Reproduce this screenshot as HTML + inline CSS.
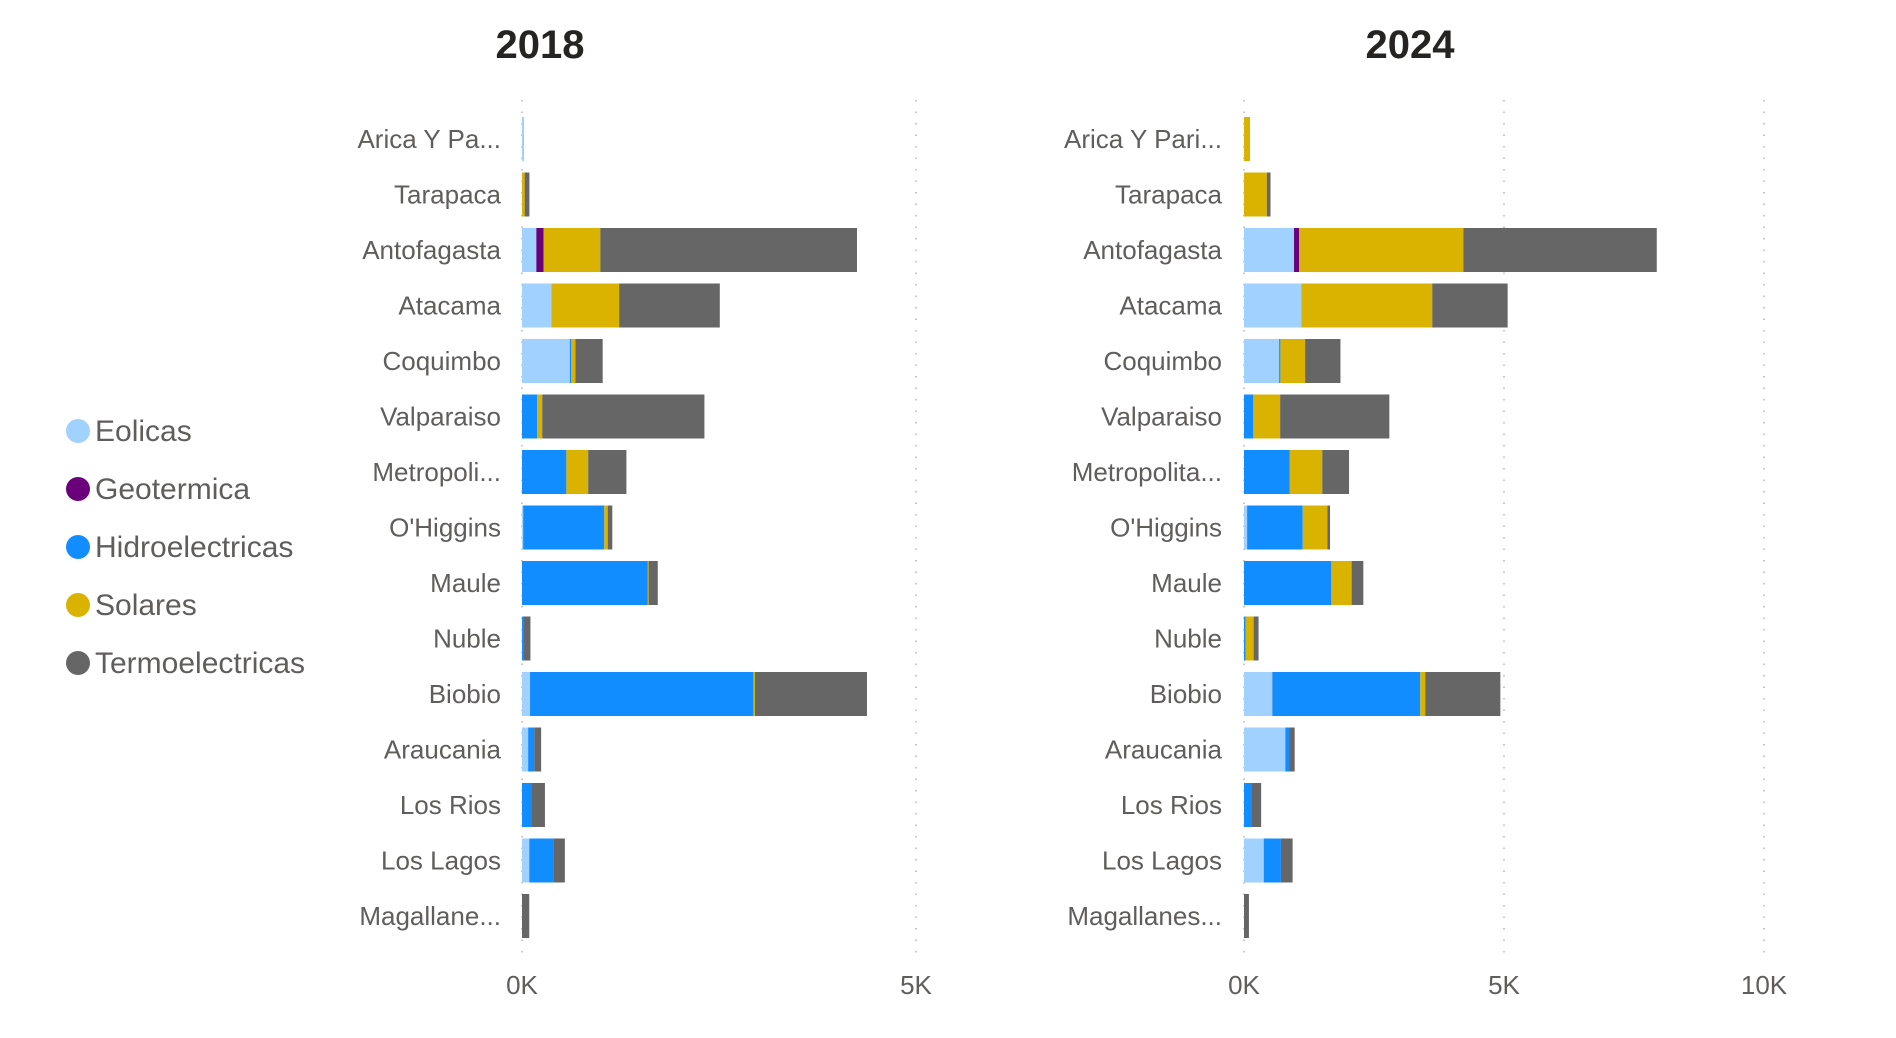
<!DOCTYPE html>
<html><head><meta charset="utf-8"><style>
html,body{margin:0;padding:0;background:#fff;}
svg{display:block;font-family:"Liberation Sans",sans-serif;}
</style></head><body>
<svg id="chart" width="1896" height="1038" viewBox="0 0 1896 1038">
<g id="legend"></g>
<g id="p2018"></g>
<g id="p2024"></g>
</svg>
<script>
const regions2018 = ["Arica Y Pa...","Tarapaca","Antofagasta","Atacama","Coquimbo","Valparaiso","Metropoli...","O'Higgins","Maule","Nuble","Biobio","Araucania","Los Rios","Los Lagos","Magallane..."];
const regions2024 = ["Arica Y Pari...","Tarapaca","Antofagasta","Atacama","Coquimbo","Valparaiso","Metropolita...","O'Higgins","Maule","Nuble","Biobio","Araucania","Los Rios","Los Lagos","Magallanes..."];
const seriesNames = ["Eolicas","Geotermica","Hidroelectricas","Solares","Termoelectricas"];
const seriesColors = ["#A0D1FF","#6B007B","#118DFF","#D9B300","#666666"];
// 2018 values per series (MW)
const eol2018 = [15,0,182,374,607,0,0,15,0,0,102,78,0,92,0];
const geo2018 = [0,0,93,0,0,0,0,0,0,0,0,0,0,0,0];
const hyd2018 = [5,0,0,0,19,194,563,1029,1597,20,2835,78,121,306,0];
const sol2018 = [0,34,719,859,53,63,277,44,10,0,19,0,0,0,0];
const ter2018 = [0,60,3257,1277,345,2058,485,58,116,87,1422,87,170,146,92];
// 2024 values per series (MW)
const eol2024 = [0,0,962,1100,675,0,0,60,0,0,545,795,0,380,0];
const geo2024 = [0,0,96,0,0,0,0,0,0,0,0,0,0,0,0];
const hyd2024 = [0,0,0,0,25,180,875,1070,1680,30,2845,80,145,330,0];
const sol2024 = [115,440,3160,2520,475,515,630,475,390,155,95,0,0,0,0];
const ter2024 = [0,70,3720,1450,680,2100,515,50,225,95,1445,100,185,225,95];
const ticks2018 = [0,5000];
const ticks2024 = [0,5000,10000];
const tickLabels2018 = ["0K","5K"];
const tickLabels2024 = ["0K","5K","10K"];

const NS = "http://www.w3.org/2000/svg";
function mk(tag, attrs, parent){const e=document.createElementNS(NS,tag);for(const k in attrs)e.setAttribute(k,attrs[k]);parent.appendChild(e);return e;}

function drawPanel(g, title, titleX, regions, series, ticks, tickLabels, x0, pxPerUnit, labelRight, gridTop, gridBottom){
  const xs = v => x0 + v*pxPerUnit;
  const yc = i => 139 + i*55.5;
  const t = mk("text",{x:titleX,y:58,"text-anchor":"middle","font-size":"40","fill":"#252423","font-weight":"600","font-family":"Liberation Sans Narrow, Liberation Sans, sans-serif"},g);
  t.textContent = title;
  
  
  ticks.forEach((tv,k)=>{
    const ln = mk("line",{x1:xs(tv),x2:xs(tv),y1:gridTop,y2:gridBottom,stroke:"#c8c8c8","stroke-width":"2","stroke-dasharray":"1.5 10"},g);
    
    
    const tl = mk("text",{x:xs(tv),y:994,"text-anchor":"middle","font-size":"26","fill":"#605E5C"},g);
    tl.textContent = tickLabels[k];
    
    
  });
  regions.forEach((r,i)=>{
    const lb = mk("text",{x:labelRight,y:yc(i)+9,"text-anchor":"end","font-size":"26","fill":"#605E5C"},g);
    lb.textContent = r;
    
    
    let acc = 0;
    series.forEach((s,si)=>{
      const v = s[i];
      if(v<=0) return;
      const rect = mk("rect",{x:xs(acc),y:yc(i)-22,width:xs(acc+v)-xs(acc),height:44,fill:seriesColors[si]},g);
      
      
      acc += v;
    });
  });
}

drawPanel(document.getElementById("p2018"),"2018",540,regions2018,[eol2018,geo2018,hyd2018,sol2018,ter2018],ticks2018,tickLabels2018,522,394/5000,501,100,962);
drawPanel(document.getElementById("p2024"),"2024",1410,regions2024,[eol2024,geo2024,hyd2024,sol2024,ter2024],ticks2024,tickLabels2024,1244,260/5000,1222,100,962);

const lg = document.getElementById("legend");
seriesNames.forEach((n,i)=>{
  const y = 431 + i*58;
  const c = mk("circle",{cx:78,cy:y,r:12,fill:seriesColors[i]},lg);
  
  
  const t = mk("text",{x:95,y:y+10,"font-size":"30","fill":"#605E5C"},lg);
  t.textContent = n;
  
  
});
</script>
</body></html>
